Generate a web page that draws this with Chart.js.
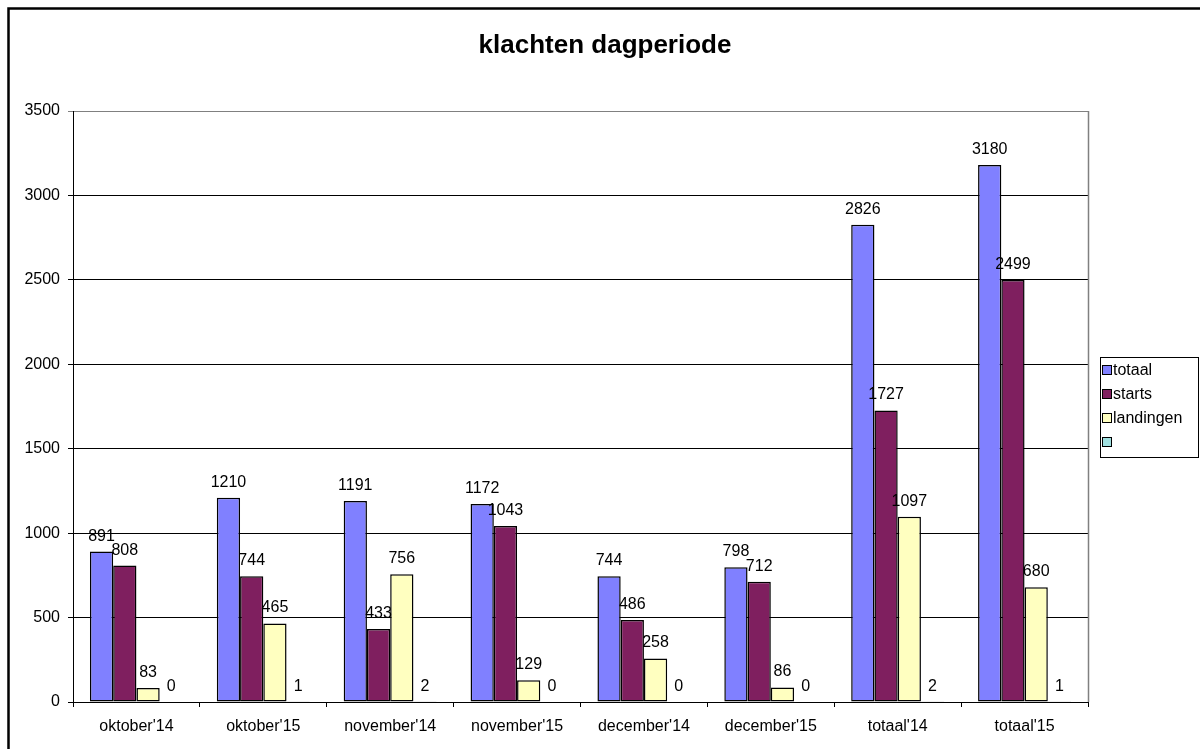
<!DOCTYPE html>
<html><head><meta charset="utf-8">
<script src="https://cdn.jsdelivr.net/npm/chart.js@4/dist/chart.umd.min.js"></script>
<style>html,body{margin:0;padding:0;background:#fff}#wrap{width:1200px;height:749px}</style>
</head><body><div id="wrap"><canvas id="c" width="1200" height="749"></canvas></div>
<script>
const titleText = 'klachten dagperiode';
const categories = ["oktober'14","oktober'15","november'14","november'15","december'14","december'15","totaal'14","totaal'15"];
const seriesNames = ['totaal','starts','landingen',''];
const totaal = [891,1210,1191,1172,744,798,2826,3180];
const starts = [808,744,433,1043,486,712,1727,2499];
const landingen = [83,465,756,129,258,86,1097,680];
const overig = [0,1,2,0,0,0,2,1];
const yTicks = [0,500,1000,1500,2000,2500,3000,3500];
const colors = ['#8080FF','#7F1F5F','#FFFFC0','#A0E0E0'];
const FONT = '"Liberation Sans", Arial, sans-serif';

const seriesValues = [totaal, starts, landingen, overig];
const datasets = seriesValues.map((v,i)=>({
  label: seriesNames[i], data: v, backgroundColor: colors[i],
  borderColor:'#000', borderWidth:1.5, borderSkipped:false,
  categoryPercentage:0.733, barPercentage:1.0
}));

const framePlugin = {
  id:'frame',
  beforeDraw(chart){
    const ctx=chart.ctx;
    ctx.save();
    ctx.fillStyle='#fff'; ctx.fillRect(0,0,chart.width,chart.height);
    ctx.strokeStyle='#000'; ctx.lineWidth=2.5;
    ctx.beginPath(); ctx.moveTo(8.5,chart.height); ctx.lineTo(8.5,8.5); ctx.lineTo(chart.width,8.5); ctx.stroke();
    ctx.fillStyle='#000'; ctx.font='bold 26px '+FONT; ctx.textAlign='center'; ctx.textBaseline='middle';
    ctx.fillText(titleText, 605, 46);
    ctx.restore();
  },
  afterDatasetsDraw(chart){
    const ctx=chart.ctx, a=chart.chartArea;
    ctx.save();
    ctx.strokeStyle='#808080'; ctx.lineWidth=1.5;
    ctx.beginPath(); ctx.moveTo(a.right+0.5,a.top); ctx.lineTo(a.right+0.5,a.bottom); ctx.stroke();
    // value labels
    ctx.fillStyle='#000'; ctx.font='16px '+FONT; ctx.textAlign='center'; ctx.textBaseline='alphabetic';
    chart.data.datasets.forEach((ds,di)=>{
      const meta=chart.getDatasetMeta(di);
      meta.data.forEach((bar,i)=>{
        ctx.fillText(String(ds.data[i]), bar.x, bar.y-11);
      });
    });
    // legend
    const lx=1100, ly=357, lw=98, rowH=24;
    const n=chart.data.datasets.length;
    const lh=rowH*n+4;
    ctx.strokeStyle='#000'; ctx.lineWidth=1;
    ctx.strokeRect(lx+0.5, ly+0.5, lw, lh);
    ctx.textAlign='left'; ctx.textBaseline='middle'; ctx.font='16px '+FONT;
    chart.data.datasets.forEach((ds,di)=>{
      const cy=ly+13+di*rowH;
      ctx.fillStyle=ds.backgroundColor;
      ctx.fillRect(lx+2.5, cy-4.5, 9, 9);
      ctx.strokeStyle='#000'; ctx.strokeRect(lx+2.5, cy-4.5, 9, 9);
      ctx.fillStyle='#000';
      ctx.fillText(ds.label, lx+13, cy+1);
    });
    ctx.restore();
  }
};

new Chart(document.getElementById('c'), {
  type:'bar',
  data:{labels:categories, datasets},
  options:{
    responsive:false, animation:false,
    layout:{padding:{left:0,right:112,top:111,bottom:0}},
    plugins:{ legend:{display:false}, tooltip:{enabled:false}, title:{display:false} },
    scales:{
      x:{
        grid:{display:true, drawOnChartArea:false, offset:true, tickLength:5, color:'#000'},
        border:{display:true,color:'#000',width:1},
        ticks:{color:'#000', font:{family:FONT,size:16}, padding:10, maxRotation:0, autoSkip:false},
        afterFit(s){ s.height=47; }
      },
      y:{
        min:0, max:3500,
        afterBuildTicks(s){ s.ticks = yTicks.map(v=>({value:v})); },
        grid:{color:(c)=>c.tick && c.tick.value===3500 ? '#808080' : '#000', tickLength:5, lineWidth:1},
        border:{display:true,color:'#000',width:1},
        ticks:{color:'#000', font:{family:FONT,size:16}, padding:8, callback:(v)=>String(v)},
        afterFit(s){ s.width=73; }
      }
    }
  },
  plugins:[framePlugin]
});
</script>
</body></html>
